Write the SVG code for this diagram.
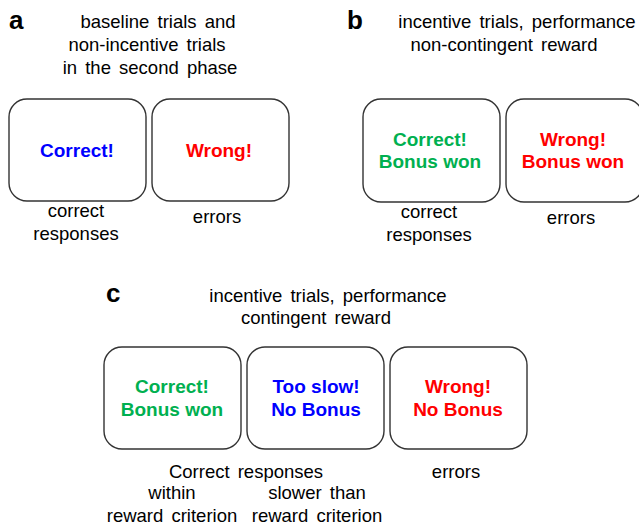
<svg xmlns="http://www.w3.org/2000/svg" width="639" height="526" viewBox="0 0 639 526">
<style>
.box{fill:#fff;stroke:#333;stroke-width:1.4}
.t{font-family:"Liberation Sans",Arial,sans-serif;font-size:18.5px;fill:#000;text-anchor:middle;word-spacing:3px}
.lab{font-family:"Liberation Sans",Arial,sans-serif;font-size:26px;font-weight:bold;fill:#000}
.b{font-family:"Liberation Sans",Arial,sans-serif;font-size:19px;font-weight:bold;text-anchor:middle}
.blue{fill:#0000ff}.red{fill:#ff0000}.green{fill:#00b050}
</style>
<rect width="639" height="526" fill="#fff"/>
<g id="panel-a">
<text class="lab" x="9" y="29">a</text>
<text class="t" x="158" y="28">baseline trials and</text>
<text class="t" x="147" y="51">non-incentive trials</text>
<text class="t" x="150" y="74">in the second phase</text>
<g id="a-correct"><rect class="box" x="9" y="99" width="137" height="102" rx="18"/>
<text class="b blue" x="77" y="157">Correct!</text></g>
<g id="a-wrong"><rect class="box" x="152" y="99" width="137" height="102" rx="18"/>
<text class="b red" x="219" y="157">Wrong!</text></g>
<text class="t" x="76" y="217">correct</text>
<text class="t" x="76" y="240">responses</text>
<text class="t" x="217" y="223">errors</text>
</g>
<g id="panel-b">
<text class="lab" x="347" y="29">b</text>
<text class="t" x="517" y="28">incentive trials, performance</text>
<text class="t" x="504" y="51">non-contingent reward</text>
<g id="b-correct"><rect class="box" x="363" y="99" width="137" height="103" rx="18"/>
<text class="b green" x="430" y="146">Correct!</text>
<text class="b green" x="430" y="168">Bonus won</text></g>
<g id="b-wrong"><rect class="box" x="506" y="99" width="137" height="103" rx="18"/>
<text class="b red" x="573" y="146">Wrong!</text>
<text class="b red" x="573" y="168">Bonus won</text></g>
<text class="t" x="429" y="218">correct</text>
<text class="t" x="429" y="241">responses</text>
<text class="t" x="571" y="224">errors</text>
</g>
<g id="panel-c">
<text class="lab" x="106" y="302">c</text>
<text class="t" x="328" y="302">incentive trials, performance</text>
<text class="t" x="316" y="324">contingent reward</text>
<g id="c-correct"><rect class="box" x="104" y="347" width="137" height="102" rx="18"/>
<text class="b green" x="172" y="393">Correct!</text>
<text class="b green" x="172" y="416">Bonus won</text></g>
<g id="c-slow"><rect class="box" x="247" y="347" width="137" height="102" rx="18"/>
<text class="b blue" x="316" y="393">Too slow!</text>
<text class="b blue" x="316" y="416">No Bonus</text></g>
<g id="c-wrong"><rect class="box" x="390" y="347" width="137" height="102" rx="18"/>
<text class="b red" x="458" y="393">Wrong!</text>
<text class="b red" x="458" y="416">No Bonus</text></g>
<text class="t" x="246" y="478">Correct responses</text>
<text class="t" x="456" y="478">errors</text>
<text class="t" x="172" y="499">within</text>
<text class="t" x="317" y="499">slower than</text>
<text class="t" x="172" y="522">reward criterion</text>
<text class="t" x="317" y="522">reward criterion</text>
</g>
</svg>
